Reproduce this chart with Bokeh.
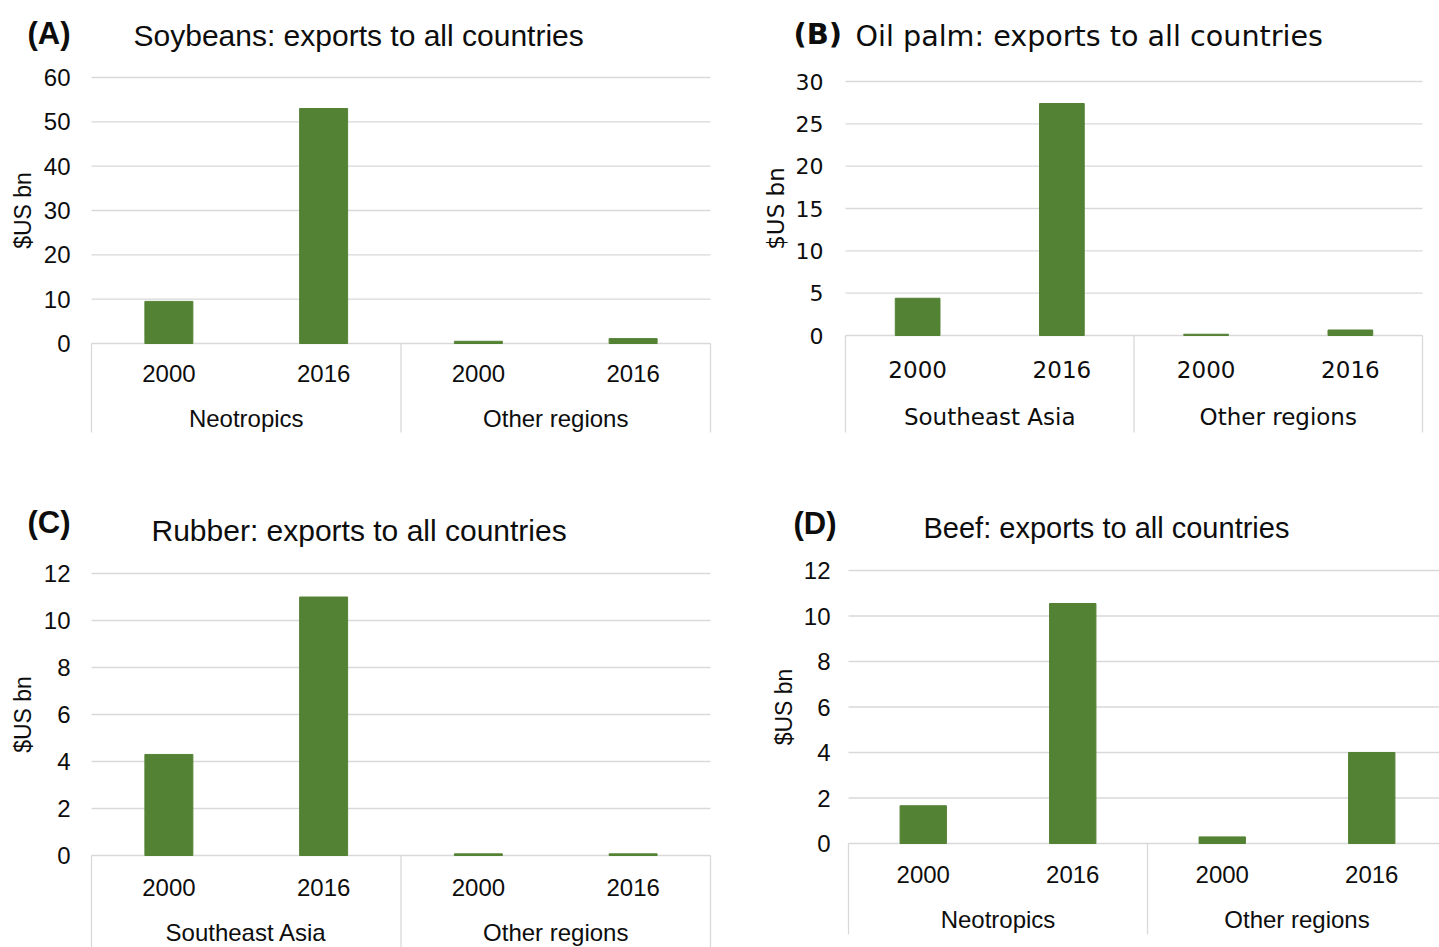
import math
from bokeh.plotting import figure
from bokeh.models import Range1d, Label
from bokeh.layouts import column, row
from bokeh.embed import file_html
from bokeh.resources import INLINE
from bokeh.core.properties import value

# ---------------- data ----------------
years = ["2000", "2016"]
y_label = "$US bn"

a_letter = "(A)"
a_title = "Soybeans: exports to all countries"
a_regions = ["Neotropics", "Other regions"]
a_values = [9.5, 53.0, 0.5, 1.1]
a_ticks = [0, 10, 20, 30, 40, 50, 60]

b_letter = "(B)"
b_title = "Oil palm: exports to all countries"
b_regions = ["Southeast Asia", "Other regions"]
b_values = [4.4, 27.4, 0.15, 0.65]
b_ticks = [0, 5, 10, 15, 20, 25, 30]

c_letter = "(C)"
c_title = "Rubber: exports to all countries"
c_regions = ["Southeast Asia", "Other regions"]
c_values = [4.3, 11.0, 0.07, 0.07]
c_ticks = [0, 2, 4, 6, 8, 10, 12]

d_letter = "(D)"
d_title = "Beef: exports to all countries"
d_regions = ["Neotropics", "Other regions"]
d_values = [1.66, 10.55, 0.29, 4.0]
d_ticks = [0, 2, 4, 6, 8, 10, 12]

# ---------------- style ----------------
BAR = "#548235"
GRID = "#d9d9d9"
TXT = "#0d0d0d"


def make_panel(letter, title, regions, values, ticks, g):
    n = len(regions) * len(years)
    ppx = (g["sr"] - g["sl"]) / n
    ymax = ticks[-1]
    ppu = (g["zero"] - g["ytop"]) / ymax

    def dx(px):
        return (px - g["sl"]) / ppx

    def dy(py):
        return (g["zero"] - py) / ppu

    p = figure(
        width=g["fw"], height=g["fh"],
        x_range=Range1d(dx(g["fx"]), dx(g["fx"] + g["fw"])),
        y_range=Range1d(dy(g["fy"] + g["fh"]), dy(g["fy"])),
        x_axis_type=None, y_axis_type=None,
        output_backend="svg", toolbar_location=None, title=None,
        min_border_left=0, min_border_right=0,
        min_border_top=0, min_border_bottom=0,
        outline_line_color=None,
        background_fill_color="white", border_fill_color="white",
    )
    font = g["font"]

    # horizontal gridlines at the tick values
    p.segment(x0=[0] * len(ticks), x1=[n] * len(ticks), y0=ticks, y1=ticks,
              line_color=GRID, line_width=1.3)
    # y tick labels
    p.text(x=[dx(g["tick_r"])] * len(ticks), y=ticks, text=[str(t) for t in ticks],
           text_align="right", text_baseline="middle",
           text_font=value(font), text_font_size=g["tick_size"], text_color=TXT)

    # bars
    labels_x = [i + 0.5 for i in range(n)]
    p.vbar(x=labels_x, top=values, bottom=0, width=0.31,
           fill_color=BAR, line_color=BAR, line_width=1)

    # category box separators
    seps = [len(years) * k for k in range(len(regions) + 1)]
    p.segment(x0=seps, y0=[0] * len(seps), x1=seps, y1=[dy(g["fb"])] * len(seps),
              line_color=GRID, line_width=1.3)

    # year labels
    year_text = years * len(regions)
    p.text(x=labels_x, y=[0] * n, text=year_text, y_offset=g["yoff"],
           text_align="center", text_baseline="middle",
           text_font=value(font), text_font_size=g["cat_size"], text_color=TXT)
    # region labels
    centers = [len(years) * k + len(years) / 2 for k in range(len(regions))]
    p.text(x=centers, y=[0] * len(regions), text=regions, y_offset=g["roff"],
           text_align="center", text_baseline="middle",
           text_font=value(font), text_font_size=g["cat_size"], text_color=TXT)

    # axis label
    p.add_layout(Label(x=dx(g["ylx"]), y=ymax / 2, text=y_label, angle=math.pi / 2,
                       text_align="center", text_baseline="middle",
                       text_font=font, text_font_size=g["ylab_size"], text_color=TXT))
    # letter + title
    p.add_layout(Label(x=dx(g["lx"]), y=dy(g["ly"]), text=letter,
                       text_align="left", text_baseline="middle",
                       text_font=font, text_font_style="bold",
                       text_font_size=g["letter_size"], text_color=TXT))
    p.add_layout(Label(x=dx(g["tx"]), y=dy(g["ty"]), text=title,
                       text_align="left", text_baseline="middle",
                       text_font=font, text_font_size=g["title_size"], text_color=TXT))
    return p


ARIAL = "Liberation Sans"
VERD = "DejaVu Sans"

gA = dict(fx=0, fy=0, fw=720, fh=470, sl=91, sr=710,
          zero=343, ytop=77, fb=432, yoff=30, roff=75, tick_r=70,
          ylx=22, lx=27, ly=33, tx=133, ty=35, font=ARIAL,
          tick_size="24px", cat_size="24px", ylab_size="23px",
          letter_size="31px", title_size="30px")
gB = dict(fx=720, fy=0, fw=719, fh=470, sl=845, sr=1422,
          zero=335, ytop=81, fb=432, yoff=34, roff=81, tick_r=823,
          ylx=775, lx=793, ly=33, tx=855, ty=35, font=VERD,
          tick_size="22px", cat_size="23px", ylab_size="23px",
          letter_size="29px", title_size="28.6px")
gC = dict(fx=0, fy=470, fw=720, fh=477, sl=91, sr=710,
          zero=855, ytop=573, fb=960, yoff=32, roff=77, tick_r=70,
          ylx=22, lx=27, ly=522, tx=151, ty=530, font=ARIAL,
          tick_size="24px", cat_size="24px", ylab_size="23px",
          letter_size="31px", title_size="30px")
gD = dict(fx=720, fy=470, fw=719, fh=477, sl=848, sr=1446,
          zero=843, ytop=570, fb=934, yoff=31, roff=76, tick_r=830,
          ylx=783, lx=793, ly=523, tx=923, ty=527, font=ARIAL,
          tick_size="24px", cat_size="24px", ylab_size="23px",
          letter_size="31px", title_size="29px")

pA = make_panel(a_letter, a_title, a_regions, a_values, a_ticks, gA)
pB = make_panel(b_letter, b_title, b_regions, b_values, b_ticks, gB)
pC = make_panel(c_letter, c_title, c_regions, c_values, c_ticks, gC)
pD = make_panel(d_letter, d_title, d_regions, d_values, d_ticks, gD)

layout = column(row(pA, pB, spacing=0), row(pC, pD, spacing=0), spacing=0)
open("out.html", "w").write(file_html(layout, INLINE))
